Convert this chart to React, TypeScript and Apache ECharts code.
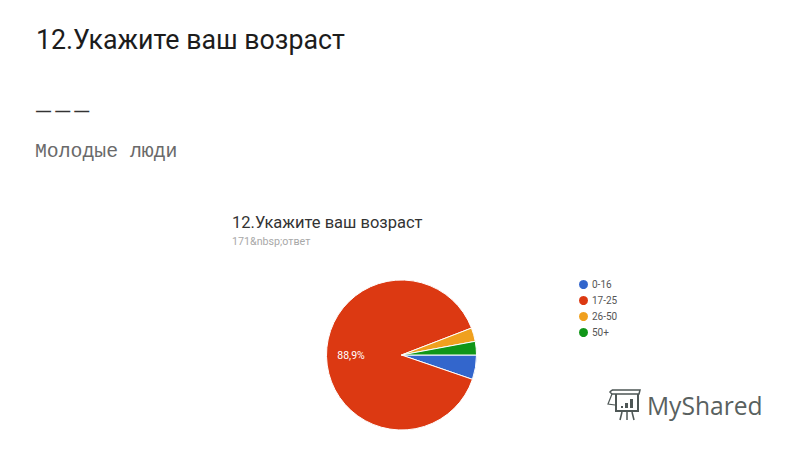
import React, { useEffect, useRef } from "react";
import * as echarts from "echarts";

const categories = ["0-16", "17-25", "26-50", "50+"];
const answers = [9, 152, 5, 5];
const colors = ["#3366cc", "#dc3912", "#f0a01e", "#109618"];
const labelled = [false, true, false, false];

const pageTitle = "12.Укажите ваш возраст";
const dashes = "— — —";
const pageSubtitle = "Молодые люди";
const chartTitle = "12.Укажите ваш возраст";
const chartSubtitle = "171&nbsp;ответ";
const watermark = "MyShared";

export default function App() {
  const ref = useRef<HTMLDivElement>(null);
  useEffect(() => {
    const chart = echarts.init(ref.current!, undefined, { renderer: "svg" });
    const logoColor = "#4e5756";
    chart.setOption({
      animation: false,
      backgroundColor: "#ffffff",
      legend: {
        orient: "vertical",
        left: 572,
        top: 273,
        itemWidth: 11,
        itemHeight: 11,
        itemGap: 3,
        icon: "circle",
        data: categories,
        selectedMode: false,
        textStyle: { fontFamily: "Roboto", fontSize: 10, color: "#555555", padding: [0, 0, 0, -2] },
      },
      series: [
        {
          type: "pie",
          center: [401.5, 355],
          radius: [0, 75],
          startAngle: 0,
          clockwise: true,
          percentPrecision: 1,
          avoidLabelOverlap: false,
          labelLine: { show: false },
          itemStyle: { borderColor: "#ffffff", borderWidth: 1 },
          labelLayout: { dx: -10 },
          data: categories.map((name, i) => ({
            name,
            value: answers[i],
            itemStyle: { color: colors[i] },
            label: {
              show: labelled[i],
              position: "inside",
              fontFamily: "Roboto",
              fontSize: 10.5,
              color: "#ffffff",
              formatter: (p: any) => p.percent.toFixed(1).replace(".", ",") + "%",
            },
          })),
        },
      ],
      graphic: [
        { type: "text", x: 36, y: 40, style: { text: pageTitle, fontFamily: "Roboto", fontSize: 26.75, fill: "#1c1c1c", verticalAlign: "middle" } },
        { type: "text", x: 36, y: 110, style: { text: dashes, fontFamily: "Liberation Sans", fontWeight: "bold", fontSize: 15, fill: "#333333", verticalAlign: "middle" } },
        { type: "text", x: 35, y: 152, style: { text: pageSubtitle, fontFamily: "Liberation Mono", fontSize: 19.8, fill: "#6a6a6a", verticalAlign: "middle" } },
        { type: "text", x: 232, y: 222, style: { text: chartTitle, fontFamily: "Roboto", fontSize: 16.5, fill: "#333333", verticalAlign: "middle" } },
        { type: "text", x: 232, y: 241, style: { text: chartSubtitle, fontFamily: "Roboto", fontSize: 10.7, fill: "#a8a8a8", verticalAlign: "middle" } },
        { type: "text", x: 647, y: 405, style: { text: watermark, fontFamily: "Open Sans", fontSize: 24.6, fill: "#59615f", verticalAlign: "middle" } },
        {
          type: "group",
          children: [
            { type: "polyline", shape: { points: [[612, 390], [640, 390], [639, 394], [612, 394], [610, 392], [612, 390]] }, style: { fill: "none", stroke: logoColor, lineWidth: 1.5 } },
            { type: "polyline", shape: { points: [[612, 394], [608, 404], [615, 405]] }, style: { fill: "none", stroke: logoColor, lineWidth: 1.2 } },
            { type: "polyline", shape: { points: [[616, 394], [616, 411], [638, 411], [638, 394]] }, style: { fill: "none", stroke: logoColor, lineWidth: 2 } },
            { type: "rect", shape: { x: 621, y: 406, width: 2, height: 2 }, style: { fill: logoColor } },
            { type: "rect", shape: { x: 625, y: 403, width: 3, height: 5 }, style: { fill: logoColor } },
            { type: "rect", shape: { x: 630, y: 399, width: 3, height: 9 }, style: { fill: logoColor } },
            { type: "line", shape: { x1: 622, y1: 412, x2: 620, y2: 420 }, style: { stroke: logoColor, lineWidth: 1.5 } },
            { type: "line", shape: { x1: 627, y1: 412, x2: 627, y2: 420 }, style: { stroke: logoColor, lineWidth: 1.5 } },
            { type: "line", shape: { x1: 632, y1: 412, x2: 634, y2: 420 }, style: { stroke: logoColor, lineWidth: 1.5 } },
          ],
        },
      ],
    });
    return () => chart.dispose();
  }, []);
  return <div ref={ref} style={{ position: "absolute", left: 0, top: 0, width: 800, height: 450 }} />;
}
